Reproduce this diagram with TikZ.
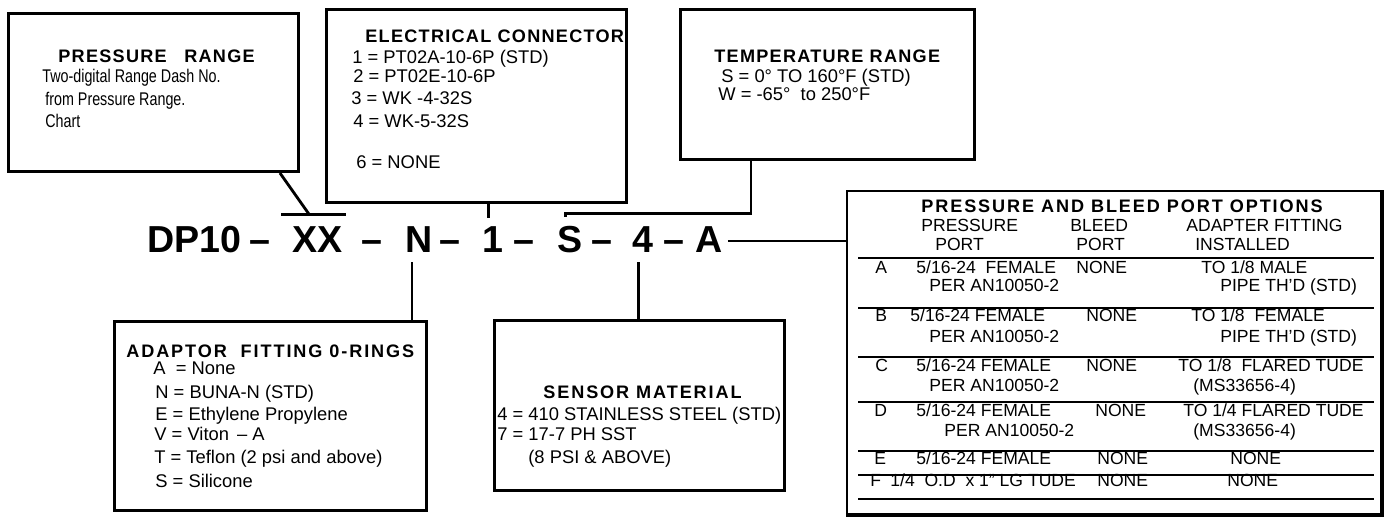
\documentclass[tikz,border=0pt]{standalone}
\usepackage{fontspec}
\setmainfont{Liberation Sans}
\newfontfamily\hdfont[LetterSpace=7]{Liberation Sans}
\newfontfamily\hdwfont[LetterSpace=10.5]{Liberation Sans}
\usetikzlibrary{calc}

\begin{document}
\begin{tikzpicture}[
  x=0.02cm, y=0.02cm,
  box/.style={draw, line width=1.7pt, anchor=north west, inner sep=0pt},
  hd/.style={anchor=base west, inner sep=0pt, font=\hdfont\bfseries\fontsize{10.3}{12}\selectfont},
  hdw/.style={hd, font=\hdwfont\bfseries\fontsize{10.3}{12}\selectfont},
  txt/.style={anchor=base west, inner sep=0pt, font=\fontsize{10.45}{12}\selectfont},
  tbl/.style={anchor=base west, inner sep=0pt, font=\fontsize{10}{12}\selectfont},
  code/.style={anchor=base west, inner sep=0pt, font=\bfseries\fontsize{21.4}{24}\selectfont},
  link/.style={line width=1.6pt},
  rule/.style={line width=1.2pt},
]
\useasboundingbox (0,0) rectangle (1390,-523);

%% ---- part number ----
\node[code] (dp)   at (147,-253) {DP10};
\node[code] (d1)   at (249,-253) {–};
\node[code] (xx)   at (292,-253) {XX};
\node[code] (d2)   at (361,-253) {–};
\node[code] (n)    at (405,-253) {N};
\node[code] (d3)   at (439,-253) {–};
\node[code] (one)  at (482,-253) {1};
\node[code] (d4)   at (513,-253) {–};
\node[code] (s)    at (557,-253) {S};
\node[code] (d5)   at (591,-253) {–};
\node[code] (four) at (632,-253) {4};
\node[code] (d6)   at (663,-253) {–};
\node[code] (a)    at (695,-253) {A};

%% ---- boxes ----
\node[box, minimum width=5.8cm,  minimum height=3.16cm] (prbox) at (7,-12) {};
\node[box, minimum width=6.0cm,  minimum height=3.86cm] (elbox) at (325,-8) {};
\node[box, minimum width=5.88cm, minimum height=3.0cm]  (tpbox) at (679,-8) {};
\node[box, minimum width=6.24cm, minimum height=3.78cm] (adbox) at (113,-320) {};
\node[box, minimum width=5.8cm,  minimum height=3.4cm]  (snbox) at (493,-319) {};
\node[box, line width=1.2pt, minimum width=10.68cm, minimum height=6.46cm] (pbbox) at (846,-190) {};
\draw[line width=2.6pt] (pbbox.south west) -- (pbbox.south east) -- (pbbox.north east);

%% ---- connectors ----
\draw[link] ($(prbox.south east)+(-20,0)$) -- ($(xx.north)+(-8,12)$);
\draw[link] ($(xx.north west)+(-11,12)$) -- ($(xx.north east)+(3,12)$);
\draw[link] ($(one.north |- elbox.south)+(-4,0)$) -- ($(one.north)+(-4,9)$);
\draw[link] ($(tpbox.south west)+(72,0)$) |- ($(s.north)+(-4,13)$) -- ++(0,-4);
\draw[link] ($(n.south)+(-7,-9)$) -- ($(n.south |- adbox.north)+(-7,0)$);
\draw[link] ($(four.south)+(-4,-9)$) -- ($(four.south |- snbox.north)+(-4,0)$);
\draw[link, line width=1.2pt] ($(a.east)+(5,-1)$) -- ($(pbbox.west |- a.east)+(0,-1)$);

%% ---- pressure range ----
\node[hd]  (prh) at (58,-63)  {PRESSURE\hspace{10pt}RANGE};
\node[txt] (pr1) at (42,-83)  {\scalebox{0.78}[1]{Two-digital Range Dash No.}};
\node[txt] (pr2) at (45,-106) {\scalebox{0.78}[1]{from Pressure Range.}};
\node[txt] (pr3) at (45,-128) {\scalebox{0.78}[1]{Chart}};

%% ---- electrical connector ----
\node[hd]  (elh) at (365,-43)  {ELECTRICAL CONNECTOR};
\node[txt] (el1) at (352,-64)  {1 = PT02A-10-6P (STD)};
\node[txt] (el2) at (353,-83)  {2 = PT02E-10-6P};
\node[txt] (el3) at (351,-105) {3 = WK -4-32S};
\node[txt] (el4) at (353,-128) {4 = WK-5-32S};
\node[txt] (el6) at (356,-169) {6 = NONE};

%% ---- temperature range ----
\node[hd]  (tph) at (714,-63)  {TEMPERATURE RANGE};
\node[txt] (tp1) at (721,-83)  {S = 0° TO 160°F (STD)};
\node[txt] (tp2) at (718,-101) {W = -65°\ \ to 250°F};

%% ---- adaptor fitting o-rings ----
\node[hdw] (adh) at (126,-358) {ADAPTOR\ \ FITTING 0-RINGS};
\node[txt] (ad1) at (153,-375) {A\ \ = None};
\node[txt] (ad2) at (155,-399) {N = BUNA-N (STD)};
\node[txt] (ad3) at (155,-421) {E = Ethylene Propylene};
\node[txt] (ad4) at (154,-441) {V = Viton \,– A};
\node[txt] (ad5) at (154,-464) {T = Teflon (2 psi and above)};
\node[txt] (ad6) at (155,-488) {S = Silicone};

%% ---- sensor material ----
\node[hdw] (snh) at (543,-399) {SENSOR MATERIAL};
\node[txt] (sn1) at (497,-421) {4 = 410 STAINLESS STEEL (STD)};
\node[txt] (sn2) at (497,-441) {7 = 17-7 PH SST};
\node[txt] (sn3) at (528,-463) {(8 PSI \& ABOVE)};

%% ---- pressure and bleed port options ----
\node[hdw] (pbh) at (921,-213) {PRESSURE AND BLEED PORT OPTIONS};
\node[tbl] (hc1) at (921,-232)  {PRESSURE};
\node[tbl] (hc2) at (1070,-232) {BLEED};
\node[tbl] (hc3) at (1186,-232) {ADAPTER FITTING};
\node[tbl] (hd1) at (935,-251)  {PORT};
\node[tbl] (hd2) at (1076,-251) {PORT};
\node[tbl] (hd3) at (1195,-251) {INSTALLED};

\draw[rule] (858,-258) -- (1374,-258);
\draw[rule] (858,-308) -- (1374,-308);
\draw[rule] (858,-357) -- (1374,-357);
\draw[rule] (858,-402) -- (1374,-402);
\draw[rule] (858,-451) -- (1374,-451);
\draw[rule] (858,-475) -- (1374,-475);
\draw[rule] (858,-499) -- (1374,-499);

\node[tbl] (ra)  at (875,-274)  {A};
\node[tbl] (ra1) at (916,-274)  {5/16-24\ \ FEMALE};
\node[tbl] (ra2) at (1076,-274) {NONE};
\node[tbl] (ra3) at (1201,-274) {TO 1/8 MALE};
\node[tbl] (ra4) at (929,-292)  {PER AN10050-2};
\node[tbl] (ra5) at (1220,-292) {PIPE TH’D (STD)};

\node[tbl] (rb)  at (875,-322)  {B};
\node[tbl] (rb1) at (910,-322)  {5/16-24 FEMALE};
\node[tbl] (rb2) at (1086,-322) {NONE};
\node[tbl] (rb3) at (1191,-322) {TO 1/8\ \ FEMALE};
\node[tbl] (rb4) at (929,-343)  {PER AN10050-2};
\node[tbl] (rb5) at (1220,-343) {PIPE TH’D (STD)};

\node[tbl] (rc)  at (875,-372)  {C};
\node[tbl] (rc1) at (916,-372)  {5/16-24 FEMALE};
\node[tbl] (rc2) at (1086,-372) {NONE};
\node[tbl] (rc3) at (1178,-372) {TO 1/8\ \ FLARED TUDE};
\node[tbl] (rc4) at (929,-392)  {PER AN10050-2};
\node[tbl] (rc5) at (1193,-392) {(MS33656-4)};

\node[tbl] (rd)  at (874,-417)  {D};
\node[tbl] (rd1) at (916,-417)  {5/16-24 FEMALE};
\node[tbl] (rd2) at (1095,-417) {NONE};
\node[tbl] (rd3) at (1183,-417) {TO 1/4 FLARED TUDE};
\node[tbl] (rd4) at (944,-437)  {PER AN10050-2};
\node[tbl] (rd5) at (1193,-437) {(MS33656-4)};

\node[tbl] (re)  at (874,-465)  {E};
\node[tbl] (re1) at (916,-465)  {5/16-24 FEMALE};
\node[tbl] (re2) at (1097,-465) {NONE};
\node[tbl] (re3) at (1230,-465) {NONE};

\node[tbl] (rf)  at (870,-487)  {F};
\node[tbl] (rf1) at (890,-487)  {1/4\ \ O.D\ \ x 1” LG TUDE};
\node[tbl] (rf2) at (1097,-487) {NONE};
\node[tbl] (rf3) at (1227,-487) {NONE};

\end{tikzpicture}
\end{document}
